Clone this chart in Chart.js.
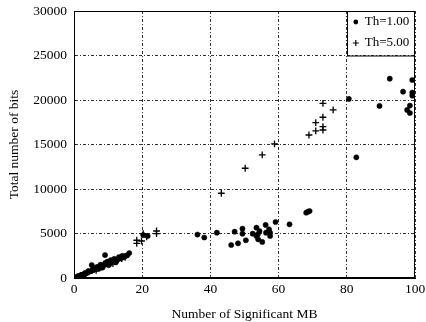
<!DOCTYPE html>
<html>
<head>
<meta charset="utf-8">
<script src="https://cdn.jsdelivr.net/npm/chart.js@4.4.0/dist/chart.umd.min.js"></script>
<style>
html,body{margin:0;padding:0;background:#fff;}
#wrap{width:426px;height:322px;}
</style>
</head>
<body>
<div id="wrap"><canvas id="c" width="426" height="322"></canvas></div>
<script>
const xTicks = [0, 20, 40, 60, 80, 100];
const yTicks = [0, 5000, 10000, 15000, 20000, 25000, 30000];
const seriesNames = ['Th=1.00', 'Th=5.00'];

const th1 = [
  [0.5,60],[1,170],[1.5,230],[2,330],[2.5,380],[3,470],[3.5,540],[4,620],[4.5,720],[5,760],
  [5.2,1460],[5.5,880],[6,960],[6.5,1060],[7,1150],[7.5,1230],[8,1310],[8.5,1400],[9,1480],
  [9.1,2580],[9.5,1560],[10,1640],[10.5,1720],[11,1800],[11.5,1880],[12,1960],[12.5,2050],
  [13,2120],[13.5,2200],[14,2280],[14.5,2350],[15,2450],[15.6,2550],[16.2,2800],
  [6.8,1250],[8.2,1150],[10.2,1450],[12.2,1750],[7.2,1020],[9.8,1850],[11.8,2150],
  [2.8,300],[4.2,780],[5.8,1120],[7.8,1500],[9.2,1700],[10.8,2000],[13.2,2350],[14.2,2500],
  [20.3,4830],[21.6,4720],[36.2,4880],[38.2,4550],
  [41.9,5090],[46.1,3710],[47.1,5200],[48.1,3900],[49.4,5540],[49.4,4980],[50.4,4240],
  [52.4,4980],[53.5,5650],[53.5,4720],[53.9,4910],[54.0,4350],[54.4,5280],[55.2,4050],
  [56.2,5960],[56.3,5090],[57.2,5470],[57.5,5090],[57.5,4720],[59.1,6290],[63.2,6030],
  [68.1,7340],[68.6,7450],[69.1,7530],
  [80.6,20120],[82.8,13560],[89.6,19330],[92.6,22400],[96.5,20940],
  [99.2,22250],[99.2,20830],[99.2,20490],[98.5,19370],[97.7,18880],[98.5,18540]
];
const th5 = [
  [1,120],[2,290],[3,480],[4,650],[5,830],[6,990],[7,1120],[8,1270],[9,1420],[10,1590],
  [11,1760],[12,1880],[13,2030],[14,2180],[15,2330],[3.5,380],[6.5,860],[8.8,1300],[11.4,1620],
  [18.4,4240],[18.4,3900],[19.8,4160],[20.3,4980],[21.3,4610],[24.2,5280],[24.2,4980],
  [43.2,9520],[50.2,12330],[55.2,13830],[58.8,15060],
  [68.9,16070],[70.9,16520],[70.9,17460],[73,16630],[73,17000],[73,18060],[73,19630],[76,18880]
];

const toPts = a => a.map(p => ({x: p[0], y: p[1]}));

const frameAndLegend = {
  id: 'frameAndLegend',
  afterDraw(chart) {
    const ctx = chart.ctx;
    const a = chart.chartArea;
    const xs = chart.scales.x, ys = chart.scales.y;
    ctx.save();
    const lx = xs.getPixelForValue(80), ly = ys.getPixelForValue(25000);
    ctx.fillStyle = '#fff';
    ctx.fillRect(lx + 0.5, a.top + 0.5, a.right - lx - 1, ly - a.top - 1);
    ctx.strokeStyle = '#000';
    ctx.lineWidth = 1;
    ctx.setLineDash([]);
    ctx.strokeRect(Math.round(lx) + 0.5, a.top + 0.5, a.right - Math.round(lx) - 1, ly - a.top);
    ctx.font = '13px "Liberation Serif"';
    ctx.fillStyle = '#000';
    ctx.textBaseline = 'middle';
    const ds = chart.data.datasets;
    const rows = [a.top + 11, a.top + 32];
    ds.forEach((d, i) => {
      const mx = lx + 9, my = rows[i];
      if (d.pointStyle === 'circle') {
        ctx.beginPath(); ctx.arc(mx, my, 2.4, 0, Math.PI * 2); ctx.fill();
      } else {
        ctx.lineWidth = 1.2;
        ctx.beginPath();
        ctx.moveTo(mx - 3, my); ctx.lineTo(mx + 3, my);
        ctx.moveTo(mx, my - 3); ctx.lineTo(mx, my + 3);
        ctx.stroke();
        ctx.lineWidth = 1;
      }
      ctx.fillText(d.label, lx + 18, my);
    });
    ctx.strokeRect(a.left + 0.5, a.top + 0.5, a.right - a.left - 1, a.bottom - a.top - 1);
    ctx.restore();
  }
};

new Chart(document.getElementById('c'), {
  type: 'scatter',
  data: {
    datasets: [
      {label: seriesNames[0], data: toPts(th1), pointStyle: 'circle', pointRadius: 2.6,
       backgroundColor: '#000', borderColor: '#000', borderWidth: 0.5},
      {label: seriesNames[1], data: toPts(th5), pointStyle: 'cross', pointRadius: 3.4,
       backgroundColor: '#000', borderColor: '#000', borderWidth: 1.3}
    ]
  },
  options: {
    responsive: false,
    animation: false,
    events: [],
    layout: {padding: {left: 0, right: 11, top: 11, bottom: 0}},
    plugins: {legend: {display: false}, tooltip: {enabled: false}},
    scales: {
      x: {
        type: 'linear', min: 0, max: 100,
        afterFit: s => { s.height = 44; s.paddingLeft = 0; s.paddingRight = 0; },
        afterBuildTicks: s => { s.ticks = xTicks.map(v => ({value: v})); },
        ticks: {color: '#000', font: {family: '"Liberation Serif"', size: 13.5}, padding: 3, maxRotation: 0,
                callback: v => String(v)},
        grid: {color: '#000', lineWidth: 0.8, drawTicks: false},
        border: {display: true, color: '#000', width: 1, dash: [3, 2, 1, 2]},
        title: {display: true, text: 'Number of Significant MB', color: '#000',
                font: {family: '"Liberation Serif"', size: 13.5}, padding: {top: 10, bottom: -1}}
      },
      y: {
        type: 'linear', min: 0, max: 30000,
        afterFit: s => { s.width = 74; s.paddingTop = 0; s.paddingBottom = 0; },
        afterBuildTicks: s => { s.ticks = yTicks.map(v => ({value: v})); },
        ticks: {color: '#000', font: {family: '"Liberation Serif"', size: 13.5}, padding: 7,
                callback: v => String(v)},
        grid: {color: '#000', lineWidth: 0.8, drawTicks: false},
        border: {display: true, color: '#000', width: 1, dash: [3, 2, 1, 2]},
        title: {display: true, text: 'Total number of bits', color: '#000',
                font: {family: '"Liberation Serif"', size: 13.5}, padding: {top: 6, bottom: 4}}
      }
    }
  },
  plugins: [frameAndLegend]
});
</script>
</body>
</html>
